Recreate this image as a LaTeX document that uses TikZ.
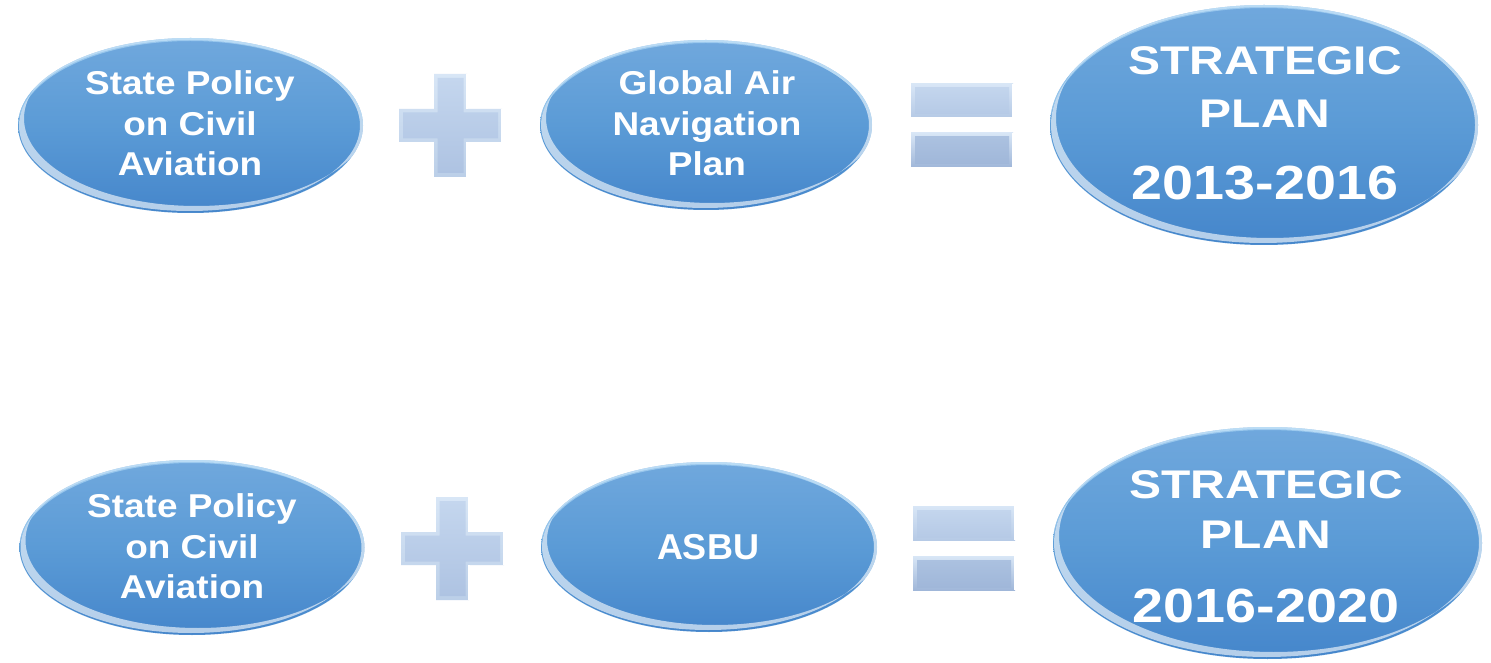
\documentclass[tikz,border=0pt]{standalone}
\usepackage{fontspec}
\newfontfamily\labA[FakeStretch=1.12]{Liberation Sans}
\newfontfamily\labB[FakeStretch=1.2]{Liberation Sans}
\newfontfamily\labC[FakeStretch=1.16]{Liberation Sans}
\newfontfamily\labD{Liberation Sans}
\usetikzlibrary{shapes.geometric,calc}
\definecolor{bubtop}{HTML}{70A8DD}
\definecolor{bubmid}{HTML}{5B9BD6}
\definecolor{bubbot}{HTML}{4586CB}
\definecolor{rimlight}{HTML}{B4DCF8}
\definecolor{bevlight}{HTML}{D8E6F6}
\definecolor{bevdark}{HTML}{BBCFE8}
\definecolor{facetop}{HTML}{C4D6EE}
\definecolor{facebot}{HTML}{AEC3E2}
\definecolor{eqatop}{HTML}{C3D5ED}
\definecolor{eqabot}{HTML}{B6CAE6}
\definecolor{eqbtop}{HTML}{ABC1E0}
\definecolor{eqbbot}{HTML}{A0B7D9}
\tikzset{
  bubble/.style={ellipse, inner sep=0pt, top color=bubtop, bottom color=bubbot, middle color=bubmid,
    draw=none,
    path picture={
      \path let \p1=(path picture bounding box.north east), \p2=(path picture bounding box.center) in
        coordinate (rr) at (\x1-\x2,\y1-\y2);
      \path let \p1=(rr), \p2=(path picture bounding box.center) in
        [fill=white, fill opacity=.6, even odd rule]
          (\x2-1pt,\y2) ellipse [x radius=\x1-2pt, y radius=\y1-2pt]
          (\x2+6pt,\y2+7pt) ellipse [x radius=\x1, y radius=\y1];
      \path let \p1=(rr), \p2=(path picture bounding box.center) in
        [fill=rimlight, fill opacity=.6, even odd rule]
          (\x2,\y2) ellipse [x radius=\x1, y radius=\y1]
          (\x2,\y2-3pt) ellipse [x radius=\x1, y radius=\y1];
    }},
  lbl/.style={text=white, anchor=base, inner sep=0pt, font=\labA\bfseries\fontsize{33}{33}\selectfont},
  lblbig/.style={text=white, anchor=base, inner sep=0pt, font=\labB\bfseries\fontsize{40}{40}\selectfont},
  lblyear/.style={text=white, anchor=base, inner sep=0pt, font=\labC\bfseries\fontsize{48}{48}\selectfont},
  lblasbu/.style={text=white, anchor=base, inner sep=0pt, font=\labD\bfseries\fontsize{36}{36}\selectfont},
  bevel/.style={top color=bevlight, bottom color=bevdark},
  face/.style={top color=facetop, bottom color=facebot},
}
\newcommand\plusmark[2]{%
  \begin{scope}[shift={(#1,#2)}]
    \def\pa{16.5}\def\pb{51.5}\def\qa{13}\def\qb{47.5}
    \path[bevel] (-\pa,\pb) -- (\pa,\pb) -- (\pa,\pa) -- (\pb,\pa) -- (\pb,-\pa) -- (\pa,-\pa) -- (\pa,-\pb)
      -- (-\pa,-\pb) -- (-\pa,-\pa) -- (-\pb,-\pa) -- (-\pb,\pa) -- (-\pa,\pa) -- cycle;
    \path[face] (-\qa,\qb) -- (\qa,\qb) -- (\qa,\qa) -- (\qb,\qa) -- (\qb,-\qa) -- (\qa,-\qa) -- (\qa,-\qb)
      -- (-\qa,-\qb) -- (-\qa,-\qa) -- (-\qb,-\qa) -- (-\qb,\qa) -- (-\qa,\qa) -- cycle;
    \draw[white, line width=1.5pt] (\pa,\pb) -- (\pa,\pa) (\pb,\pa) -- (\pb,-\pa) (\pa,-\pa) -- (\pa,-\pb);
  \end{scope}}
\newcommand\eqbar[6]{%
  \path[top color=bevlight, bottom color=#6] (#1,#2) rectangle (#3,#4);
  \path[top color=#5, bottom color=#6] (#1+4,#2+3) rectangle (#3-4,#4-4);
  \draw[white, line width=1.5pt] (#3,#2) -- (#3,#4);}
\begin{document}
\begin{tikzpicture}[x=1pt,y=1pt]
\useasboundingbox[fill=white] (0,0) rectangle (1491,662);

% top row
\node[bubble, minimum width=345, minimum height=175] (e1) at (190.5,536.5) {};
\node[lbl] (t1a) at (190,567) {State Policy};
\node[lbl] (t1b) at (190,526) {on Civil};
\node[lbl] (t1c) at (190,486) {Aviation};

\plusmark{450.5}{536.5}

\node[bubble, minimum width=332, minimum height=170] (e2) at (706,537) {};
\node[lbl] (t2a) at (707,567) {Global Air};
\node[lbl] (t2b) at (707,526) {Navigation};
\node[lbl] (t2c) at (707,486) {Plan};

\eqbar{911}{545}{1013}{578}{eqatop}{eqabot}
\eqbar{911}{495}{1013}{529}{eqbtop}{eqbbot}

\node[bubble, minimum width=428, minimum height=240] (e3) at (1264,537) {};
\node[lblbig] (t3a) at (1265,587) {STRATEGIC};
\node[lblbig] (t3b) at (1265,534) {PLAN};
\node[lblyear] (t3c) at (1265,462) {2013-2016};

% bottom row
\node[bubble, minimum width=345, minimum height=175] (e4) at (192,114.5) {};
\node[lbl] (t4a) at (192,145) {State Policy};
\node[lbl] (t4b) at (192,104) {on Civil};
\node[lbl] (t4c) at (192,64) {Aviation};

\plusmark{452.5}{113.5}

\node[bubble, minimum width=336, minimum height=170] (e5) at (709,115) {};
\node[lblasbu] (t5a) at (708,103) {ASBU};

\eqbar{913}{122}{1015}{156}{eqatop}{eqabot}
\eqbar{913}{72}{1015}{106}{eqbtop}{eqbbot}

\node[bubble, minimum width=429, minimum height=232] (e6) at (1267.5,119) {};
\node[lblbig] (t6a) at (1266,164) {STRATEGIC};
\node[lblbig] (t6b) at (1266,114) {PLAN};
\node[lblyear] (t6c) at (1266,40) {2016-2020};
\end{tikzpicture}
\end{document}
